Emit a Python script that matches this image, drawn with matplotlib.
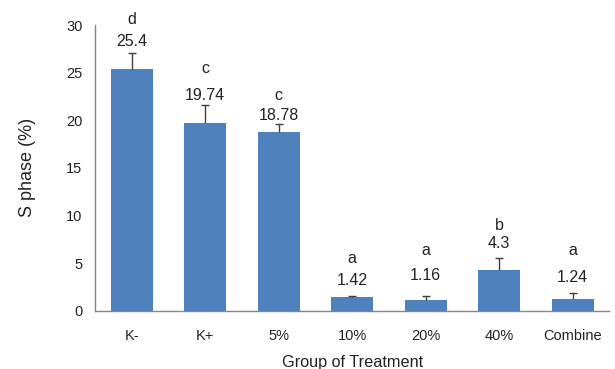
import matplotlib
matplotlib.use("Agg")
import matplotlib.pyplot as plt

plt.rcParams['font.family'] = ['Liberation Sans', 'DejaVu Sans']

categories = ["K-", "K+", "5%", "10%", "20%", "40%", "Combine"]
values = [25.4, 19.74, 18.78, 1.42, 1.16, 4.3, 1.24]
errors = [1.7, 1.83, 0.83, 0.08, 0.35, 1.2, 0.6]
letters = ["d", "c", "c", "a", "a", "b", "a"]
value_labels = ["25.4", "19.74", "18.78", "1.42", "1.16", "4.3", "1.24"]

# label offsets (pixels above error bar top) for value and letter labels
val_off = [11, 10, 9, 16, 21, 15, 16]
let_off = [22, 27, 20, 22, 25, 18, 27]

fig = plt.figure(figsize=(6.15, 3.69), dpi=100)
ax = fig.add_axes([0.1545, 0.158, 0.8365, 0.774])

x = list(range(len(categories)))
ax.bar(x, values, width=0.57, color="#4F81BD", zorder=2)
eb = ax.errorbar(x, values, yerr=[[0]*len(errors), errors], fmt="none",
                 ecolor="#404040", elinewidth=1.0, capsize=3, capthick=1.0, zorder=3)
# only keep the upper cap
caplines = eb[1]
if len(caplines) > 1:
    caplines[0].set_visible(False)

for i in x:
    top = values[i] + errors[i]
    ax.annotate(value_labels[i], (i, top), xytext=(0, val_off[i]),
                textcoords="offset pixels", ha="center", va="center",
                fontsize=11.5, color="#222222")
    ax.annotate(letters[i], (i, top), xytext=(0, val_off[i] + let_off[i]),
                textcoords="offset pixels", ha="center", va="center",
                fontsize=11.5, color="#222222")

ax.set_xlim(-0.5, 6.5)
ax.set_ylim(0, 30)
ax.set_yticks([0, 5, 10, 15, 20, 25, 30])
ax.set_xticks(x)
ax.set_xticklabels(categories)
ax.tick_params(axis="both", length=0, labelsize=10.5, colors="#222222")
ax.tick_params(axis="y", pad=9)
ax.tick_params(axis="x", pad=13)

for s in ["top", "right"]:
    ax.spines[s].set_visible(False)
for s in ["left", "bottom"]:
    ax.spines[s].set_color("#868686")
    ax.spines[s].set_linewidth(1.0)

ax.set_ylabel("S phase (%)", fontsize=13, color="#222222", va="center")
ax.yaxis.set_label_coords(-0.131, 0.5)
ax.set_xlabel("Group of Treatment", fontsize=11.7, color="#222222", va="center")
ax.xaxis.set_label_coords(0.5, -0.18)

fig.savefig("out.png", dpi=100)
